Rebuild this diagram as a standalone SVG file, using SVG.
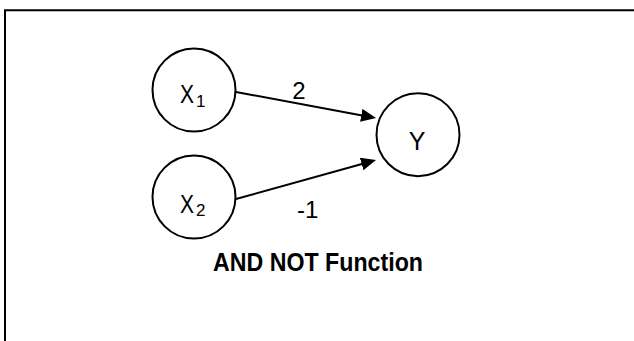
<svg xmlns="http://www.w3.org/2000/svg" width="634" height="341" viewBox="0 0 634 341">
  <style>
    .node { fill: none; stroke: #000; stroke-width: 2; }
    .lbl { font-family: "Liberation Sans", Arial, sans-serif; fill: #000; }
    .conn { stroke: #000; stroke-width: 2; fill: none; marker-end: url(#arrow); }
  </style>
  <defs>
    <marker id="arrow" markerUnits="userSpaceOnUse" markerWidth="15" markerHeight="13" refX="5" refY="6.5" orient="auto">
      <path d="M0,0 L15,6.5 L0,13 Z" fill="#000"/>
    </marker>
  </defs>
  <rect x="0" y="0" width="634" height="341" fill="#fff"/>
  <path d="M640,10.3 H5 V345" fill="none" stroke="#000" stroke-width="2"/>

  <g id="connectors">
    <path class="conn" d="M236,92 L366.2,116.2"/>
    <path class="conn" d="M236,199 L366.4,162.7"/>
    <text class="lbl" x="299" y="99" font-size="24" text-anchor="middle">2</text>
    <text class="lbl" x="297" y="218" font-size="24">-1</text>
  </g>

  <g id="x1">
    <circle class="node" cx="194" cy="90" r="41.5"/>
    <text class="lbl" x="180" y="102.7" font-size="25" textLength="14" lengthAdjust="spacingAndGlyphs">X</text>
    <text class="lbl" x="196" y="107" font-size="17">1</text>
  </g>
  <g id="x2">
    <circle class="node" cx="194" cy="197" r="41.5"/>
    <text class="lbl" x="180" y="212.5" font-size="25" textLength="14" lengthAdjust="spacingAndGlyphs">X</text>
    <text class="lbl" x="196" y="216" font-size="17">2</text>
  </g>
  <g id="y">
    <circle class="node" cx="418" cy="134.7" r="41.5"/>
    <text class="lbl" x="417" y="150" font-size="25" text-anchor="middle">Y</text>
  </g>

  <text class="lbl" x="213" y="271" font-size="26" font-weight="bold" textLength="210" lengthAdjust="spacingAndGlyphs">AND NOT Function</text>
</svg>
